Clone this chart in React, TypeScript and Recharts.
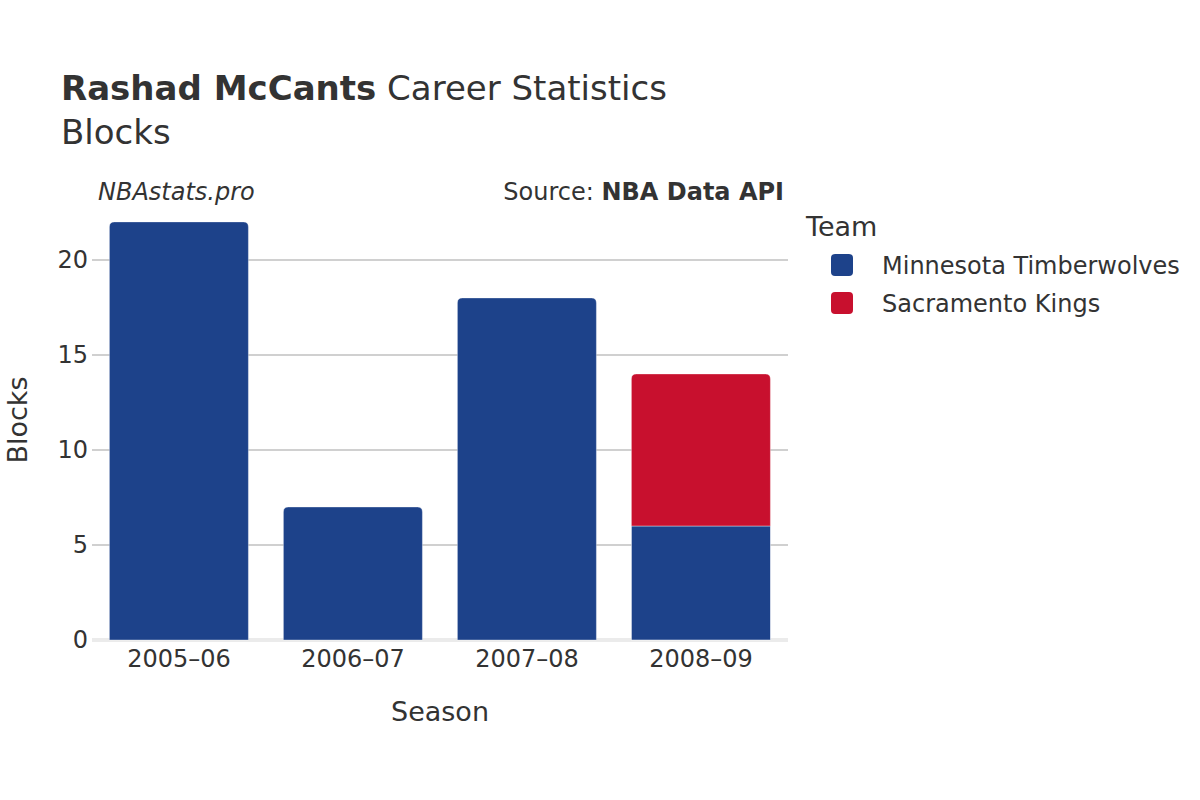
import React from "react";
import { BarChart, Bar, XAxis, YAxis, CartesianGrid } from "recharts";

const seasons = ["2005–06", "2006–07", "2007–08", "2008–09"];
const minnesota = [22, 7, 18, 6];
const sacramento = [0, 0, 0, 8];
const yTicks = [0, 5, 10, 15, 20];
const teams = ["Minnesota Timberwolves", "Sacramento Kings"];
const colors = ["#1D428A", "#C8102E"];

const data = seasons.map((s, i) => ({
  season: s,
  min: minnesota[i],
  sac: sacramento[i] > 0 ? sacramento[i] : null,
}));

const FONT = "'DejaVu Sans', Verdana, sans-serif";
const TXT = "#333333";

function topRoundedPath(x: number, y: number, w: number, h: number, r: number) {
  if (h <= 0) return "";
  const rr = Math.min(r, h, w / 2);
  return `M${x},${y + h} L${x},${y + rr} Q${x},${y} ${x + rr},${y} L${x + w - rr},${y} Q${x + w},${y} ${x + w},${y + rr} L${x + w},${y + h} Z`;
}

const MinShape = (props: any) => {
  const { x, y, width, height, payload, fill } = props;
  const isTop = !(payload && payload.sac);
  if (isTop) {
    return <path d={topRoundedPath(x, y, width, height, 5)} fill={fill} stroke="#ffffff" strokeWidth={0.6} strokeOpacity={0.6} />;
  }
  return <rect x={x} y={y} width={width} height={height} fill={fill} stroke="#ffffff" strokeWidth={0.6} strokeOpacity={0.8} />;
};

const SacShape = (props: any) => {
  const { x, y, width, height, fill } = props;
  if (!height || height <= 0) return <g />;
  return <path d={topRoundedPath(x, y, width, height, 5)} fill={fill} stroke="#ffffff" strokeWidth={0.6} strokeOpacity={0.6} />;
};

const YTick = (props: any) => {
  const { y, payload } = props;
  return (
    <text x={88} y={y} dy={8} textAnchor="end" fontFamily={FONT} fontSize={24} fill={TXT}>
      {payload.value}
    </text>
  );
};

const XTick = (props: any) => {
  const { x, payload } = props;
  return (
    <text x={x} y={667} textAnchor="middle" fontFamily={FONT} fontSize={24} fill={TXT}>
      {payload.value}
    </text>
  );
};

export default function App() {
  return (
    <div style={{ position: "absolute", left: 0, top: 0, width: 1200, height: 800, background: "#ffffff" }}>
      <BarChart
        width={1200}
        height={800}
        data={data}
        margin={{ top: 201, right: 412, bottom: 120, left: 32 }}
        barCategoryGap="10%"
      >
        <CartesianGrid vertical={false} horizontalValues={[0]} stroke="#ebebeb" strokeWidth={4} />
        <CartesianGrid vertical={false} horizontalValues={[5, 10, 15, 20]} stroke="#c0c0c0" strokeWidth={1.5} />
        <XAxis dataKey="season" axisLine={false} tickLine={false} tick={<XTick />} interval={0} height={40} />
        <YAxis domain={[0, 23.1]} ticks={yTicks} axisLine={false} tickLine={false} tick={<YTick />} width={60} />
        <Bar dataKey="min" name={teams[0]} stackId="a" fill={colors[0]} shape={<MinShape />} isAnimationActive={false} />
        <Bar dataKey="sac" name={teams[1]} stackId="a" fill={colors[1]} shape={<SacShape />} isAnimationActive={false} />
      </BarChart>
      <svg width={1200} height={800} style={{ position: "absolute", left: 0, top: 0, pointerEvents: "none" }}>
        <text x={61} y={100} fontFamily={FONT} fontSize={34} fill={TXT}>
          <tspan fontWeight="bold">Rashad McCants</tspan>
          <tspan> Career Statistics</tspan>
        </text>
        <text x={61} y={144} fontFamily={FONT} fontSize={34} fill={TXT}>Blocks</text>
        <text x={98} y={200} fontFamily={FONT} fontSize={24} fontStyle="italic" fill={TXT}>NBAstats.pro</text>
        <text x={784} y={200} textAnchor="end" fontFamily={FONT} fontSize={24} fill={TXT}>
          <tspan>Source: </tspan>
          <tspan fontWeight="bold">NBA Data API</tspan>
        </text>
        <text x={440} y={721} textAnchor="middle" fontFamily={FONT} fontSize={27} fill={TXT}>Season</text>
        <text x={0} y={0} textAnchor="middle" fontFamily={FONT} fontSize={27} fill={TXT} transform="translate(27,420) rotate(-90)">Blocks</text>
        <text x={806} y={236} fontFamily={FONT} fontSize={27} fill={TXT}>Team</text>
        {teams.map((t, i) => (
          <g key={t}>
            <rect x={831} y={254 + i * 38} width={22} height={22} rx={4} ry={4} fill={colors[i]} />
            <text x={882} y={274 + i * 38} fontFamily={FONT} fontSize={24} fill={TXT}>{t}</text>
          </g>
        ))}
      </svg>
    </div>
  );
}
